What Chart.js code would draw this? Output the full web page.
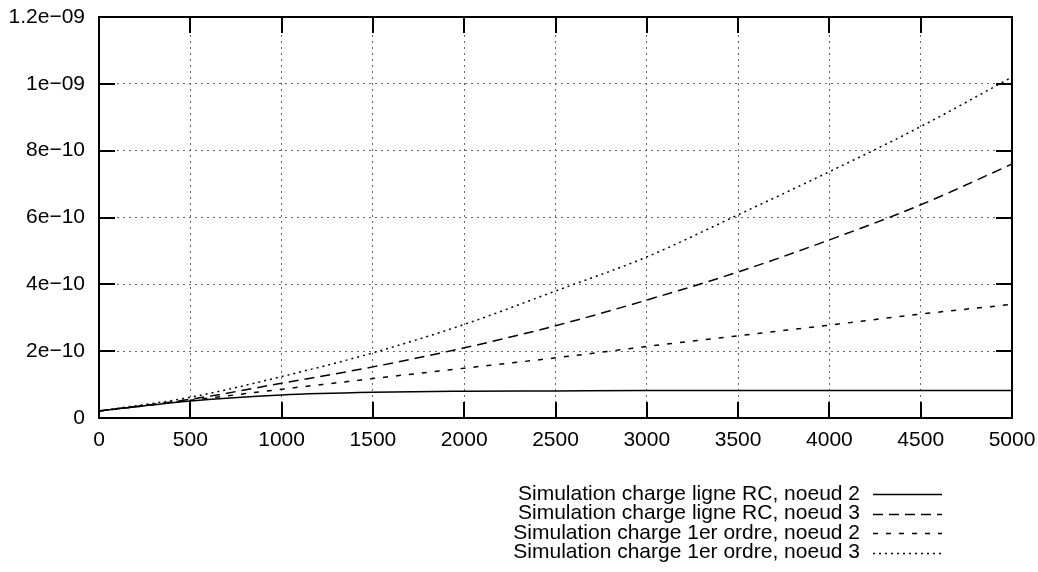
<!DOCTYPE html>
<html>
<head>
    <title>Simulation charge</title>
    <script src="https://cdn.jsdelivr.net/npm/chart.js"></script>
    <style>
        body { margin: 0; background: #fff; }
    </style>
</head>
<body>
    <canvas id="chargeChart" width="1038" height="572"></canvas>

    <script>
        // Values
        const xValues = [0, 500, 1000, 1500, 2000, 2500, 3000, 3500, 4000, 4500, 5000];
        const rcNoeud2 = [2.1e-11, 5.1e-11, 6.9e-11, 7.7e-11, 8.0e-11, 8.1e-11, 8.2e-11, 8.2e-11, 8.2e-11, 8.2e-11, 8.2e-11];
        const rcNoeud3 = [2.1e-11, 5.6e-11, 1.04e-10, 1.53e-10, 2.1e-10, 2.76e-10, 3.53e-10, 4.37e-10, 5.33e-10, 6.38e-10, 7.6e-10];
        const ordre1Noeud2 = [2.1e-11, 5.3e-11, 8.6e-11, 1.18e-10, 1.49e-10, 1.8e-10, 2.14e-10, 2.46e-10, 2.78e-10, 3.11e-10, 3.4e-10];
        const ordre1Noeud3 = [2.1e-11, 6.2e-11, 1.24e-10, 1.95e-10, 2.8e-10, 3.8e-10, 4.82e-10, 6.08e-10, 7.37e-10, 8.72e-10, 1.02e-9];

        const seriesLabels = [
            'Simulation charge ligne RC, noeud 2',
            'Simulation charge ligne RC, noeud 3',
            'Simulation charge 1er ordre, noeud 2',
            'Simulation charge 1er ordre, noeud 3'
        ];

        const xTickValues = [0, 500, 1000, 1500, 2000, 2500, 3000, 3500, 4000, 4500, 5000];
        const yTickValues = [0, 2e-10, 4e-10, 6e-10, 8e-10, 1e-9, 1.2e-9];
        const yTickLabels = ['0', '2e\u221210', '4e\u221210', '6e\u221210', '8e\u221210', '1e\u221209', '1.2e\u221209'];

        const FONT = '"Liberation Sans", Arial, Helvetica, sans-serif';

        function toPoints(ys) {
            return xValues.map((x, i) => ({ x: x, y: ys[i] }));
        }

        function lineSet(label, ys, dash) {
            return {
                label: label,
                data: toPoints(ys),
                borderColor: '#000',
                borderWidth: 1.5,
                borderDash: dash,
                pointRadius: 0,
                fill: false,
                cubicInterpolationMode: 'monotone'
            };
        }

        // gnuplot-like frame, inward ticks on all four sides, and legend
        const gnuplotFrame = {
            id: 'gnuplotFrame',
            afterDraw(chart) {
                const ctx = chart.ctx;
                const area = chart.chartArea;
                const xs = chart.scales.x;
                const ys = chart.scales.y;
                const tick = 16;

                ctx.save();
                ctx.strokeStyle = '#000';
                ctx.lineWidth = 2;
                ctx.setLineDash([]);
                ctx.beginPath();
                xTickValues.forEach(v => {
                    const px = Math.round(xs.getPixelForValue(v));
                    ctx.moveTo(px, area.bottom);
                    ctx.lineTo(px, area.bottom - tick);
                    ctx.moveTo(px, area.top);
                    ctx.lineTo(px, area.top + tick);
                });
                yTickValues.forEach(v => {
                    const py = Math.round(ys.getPixelForValue(v));
                    ctx.moveTo(area.left, py);
                    ctx.lineTo(area.left + tick, py);
                    ctx.moveTo(area.right, py);
                    ctx.lineTo(area.right - tick, py);
                });
                ctx.stroke();
                ctx.strokeRect(area.left, area.top, area.right - area.left, area.bottom - area.top);

                // legend, text right aligned with the sample on the right
                ctx.font = '21px ' + FONT;
                ctx.fillStyle = '#000';
                ctx.textAlign = 'right';
                ctx.textBaseline = 'middle';
                chart.data.datasets.forEach((ds, i) => {
                    const y = 494 + i * 19.5;
                    ctx.fillText(ds.label, 860, y);
                    ctx.lineWidth = 1.5;
                    ctx.setLineDash(ds.borderDash || []);
                    ctx.beginPath();
                    ctx.moveTo(873, Math.round(y) + 0.5);
                    ctx.lineTo(942, Math.round(y) + 0.5);
                    ctx.stroke();
                });
                ctx.restore();
            }
        };

        new Chart(document.getElementById('chargeChart'), {
            type: 'line',
            data: {
                datasets: [
                    lineSet(seriesLabels[0], rcNoeud2, []),
                    lineSet(seriesLabels[1], rcNoeud3, [10, 6]),
                    lineSet(seriesLabels[2], ordre1Noeud2, [5, 8]),
                    lineSet(seriesLabels[3], ordre1Noeud3, [2, 4])
                ]
            },
            options: {
                responsive: false,
                animation: false,
                layout: { padding: { top: 17, right: 26, left: 0, bottom: 0 } },
                plugins: {
                    legend: { display: false },
                    tooltip: { enabled: false }
                },
                scales: {
                    x: {
                        type: 'linear',
                        min: 0,
                        max: 5000,
                        afterBuildTicks: s => { s.ticks = xTickValues.map(v => ({ value: v })); },
                        afterFit: s => { s.height = 154; s.paddingLeft = 0; s.paddingRight = 0; },
                        grid: { color: '#666', lineWidth: 1, drawTicks: false },
                        border: { display: false, dash: [2, 4] },
                        ticks: {
                            color: '#000',
                            padding: 10,
                            maxRotation: 0,
                            font: { family: FONT, size: 21 },
                            callback: v => String(v)
                        }
                    },
                    y: {
                        type: 'linear',
                        min: 0,
                        max: 1.2e-9,
                        afterBuildTicks: s => { s.ticks = yTickValues.map(v => ({ value: v })); },
                        afterFit: s => { s.width = 99; s.paddingTop = 0; s.paddingBottom = 0; },
                        grid: { color: '#666', lineWidth: 1, drawTicks: false },
                        border: { display: false, dash: [2, 4] },
                        ticks: {
                            color: '#000',
                            padding: 14,
                            font: { family: FONT, size: 21 },
                            callback: (v, i) => yTickLabels[i]
                        }
                    }
                }
            },
            plugins: [gnuplotFrame]
        });
    </script>
</body>
</html>
